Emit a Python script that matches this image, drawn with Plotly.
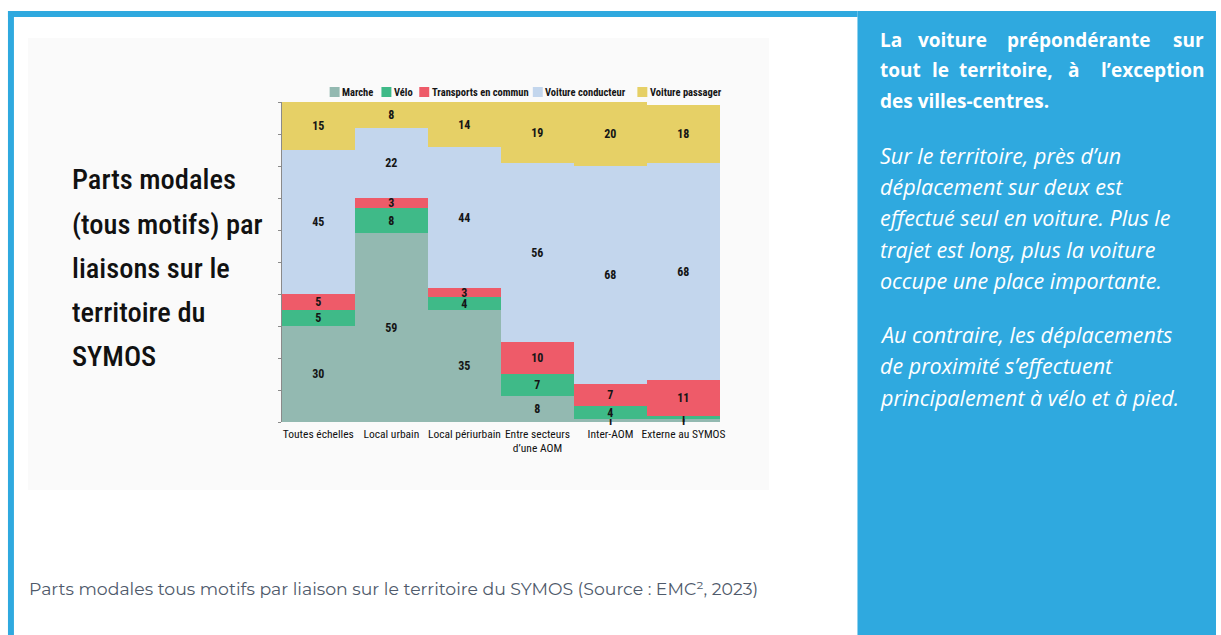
import plotly.graph_objects as go

W, H = 1221, 635

categories = ["Toutes échelles", "Local urbain", "Local périurbain",
              "Entre secteurs<br>d’une AOM", "Inter-AOM", "Externe au SYMOS"]
modes = ["Marche", "Vélo", "Transports en commun", "Voiture conducteur", "Voiture passager"]
marche = [30, 59, 35, 8, 1, 1]
velo = [5, 8, 4, 7, 4, 1]
tc = [5, 3, 3, 10, 7, 11]
vc = [45, 22, 44, 56, 68, 68]
vp = [15, 8, 14, 19, 20, 18]
series = [marche, velo, tc, vc, vp]
colors = ["#93b9b1", "#3fba88", "#ee5b69", "#c3d6ed", "#e6d066"]

title_lines = ["Parts modales", "(tous motifs) par", "liaisons sur le", "territoire du", "SYMOS"]
caption = "Parts modales tous motifs par liaison sur le territoire du SYMOS (Source : EMC², 2023)"
head_line1 = ["La", "voiture", "prépondérante", "sur"]
head_line2 = ["tout", "le", "territoire,", "à", "l’exception"]
head_line3 = "des villes-centres."
para_lines = ["Sur le territoire, près d’un", "déplacement sur deux est",
              "effectué seul en voiture. Plus le", "trajet est long, plus la voiture",
              "occupe une place importante."]
para2_lines = ["Au contraire, les déplacements", "de proximité s’effectuent",
               "principalement à vélo et à pied."]

COND = "Roboto Condensed, Oswald, sans-serif"
BLUE = "#2fa9df"


def px(x):
    return x / W


def py(y):
    return 1 - y / H


fig = go.Figure()
for name, vals, col in zip(modes, series, colors):
    fig.add_trace(go.Bar(
        x=categories, y=vals, name=name, marker=dict(color=col, line=dict(width=0)),
        text=vals, textposition="inside", insidetextanchor="middle",
        textangle=0, constraintext="none", cliponaxis=False, showlegend=False,
        textfont=dict(family=COND, size=12, color="#151515", weight="bold"),
    ))

shapes = [
    dict(type="rect", xref="paper", yref="paper", x0=px(28), x1=px(772), y0=py(490), y1=py(38),
         fillcolor="#fafafa", line=dict(width=0), layer="below"),
    dict(type="rect", xref="paper", yref="paper", x0=px(861), x1=1, y0=0, y1=py(11),
         fillcolor=BLUE, line=dict(width=0), layer="below"),
    dict(type="rect", xref="paper", yref="paper", x0=px(8), x1=px(861), y0=py(17), y1=py(11),
         fillcolor=BLUE, line=dict(width=0), layer="below"),
    dict(type="rect", xref="paper", yref="paper", x0=px(8), x1=px(14), y0=0, y1=py(11),
         fillcolor=BLUE, line=dict(width=0), layer="below"),
]

ann = []
# legend (built from the series names and colours)
leg_x = [331, 383, 421, 535, 640]
for name, col, lx in zip(modes, colors, leg_x):
    shapes.append(dict(type="rect", xref="paper", yref="paper", x0=px(lx), x1=px(lx + 10),
                       y0=py(97), y1=py(87), fillcolor=col, line=dict(width=0)))
    ann.append(dict(text=name, x=px(lx + 10.5), y=py(92), xref="paper", yref="paper",
                    xanchor="left", yanchor="middle", showarrow=False,
                    font=dict(family=COND, size=10.5, color="#151515", weight="bold")))

for i, t in enumerate(title_lines):
    ann.append(dict(text=t, x=px(70), y=py(180 + i * 44), xref="paper", yref="paper",
                    xanchor="left", yanchor="middle", showarrow=False,
                    font=dict(family=COND, size=28.5, color="#111111", weight=500)))

ann.append(dict(text=caption, x=px(27), y=py(588), xref="paper", yref="paper",
                xanchor="left", yanchor="middle", showarrow=False,
                font=dict(family="Montserrat, Open Sans, sans-serif", size=17.3, color="#4f5a6b")))

HF = dict(family="Open Sans, sans-serif", size=19, color="white", weight="bold")
l1 = [(882, "left"), (920, "left"), (1009, "left"), (1211, "right")]
for w, (x, a) in zip(head_line1, l1):
    ann.append(dict(text=w, x=px(x), y=py(40), xref="paper", yref="paper", xanchor=a,
                    yanchor="middle", showarrow=False, font=HF))
l2 = [(882, "left"), (934, "left"), (961, "left"), (1070, "left"), (1211, "right")]
for w, (x, a) in zip(head_line2, l2):
    ann.append(dict(text=w, x=px(x), y=py(70), xref="paper", yref="paper", xanchor=a,
                    yanchor="middle", showarrow=False, font=HF))
ann.append(dict(text=head_line3, x=px(882), y=py(101), xref="paper", yref="paper", xanchor="left",
                yanchor="middle", showarrow=False, font=HF))

IF = dict(family="Open Sans, sans-serif", size=21.5, color="white", style="italic")
for i, t in enumerate(para_lines):
    ann.append(dict(text=t, x=px(882), y=py(155 + i * 31.5), xref="paper", yref="paper",
                    xanchor="left", yanchor="middle", showarrow=False, font=IF))
for i, t in enumerate(para2_lines):
    ann.append(dict(text=t, x=px(882), y=py(334 + i * 31.5), xref="paper", yref="paper",
                    xanchor="left", yanchor="middle", showarrow=False, font=IF))

fig.update_layout(
    width=W, height=H, margin=dict(l=0, r=0, t=0, b=0),
    paper_bgcolor="white", plot_bgcolor="rgba(0,0,0,0)",
    barmode="stack", bargap=0,
    shapes=shapes, annotations=ann,
    showlegend=False,
    xaxis=dict(domain=[px(283), px(723)], showgrid=False, showline=False, ticks="",
               tickangle=0, tickfont=dict(family=COND, size=11.5, color="#111111"),
               ticklabelstandoff=3, fixedrange=True),
    yaxis=dict(domain=[py(422), py(102)], range=[0, 100], dtick=10, showgrid=False,
               showline=True, linecolor="#8a8a8a", linewidth=1, ticks="outside",
               ticklen=3, tickcolor="#8a8a8a", showticklabels=False, zeroline=False,
               fixedrange=True),
)

fig.write_html("out.html", config={"displayModeBar": False},
               post_script="document.body.style.margin='0';document.body.style.overflow='hidden';")
